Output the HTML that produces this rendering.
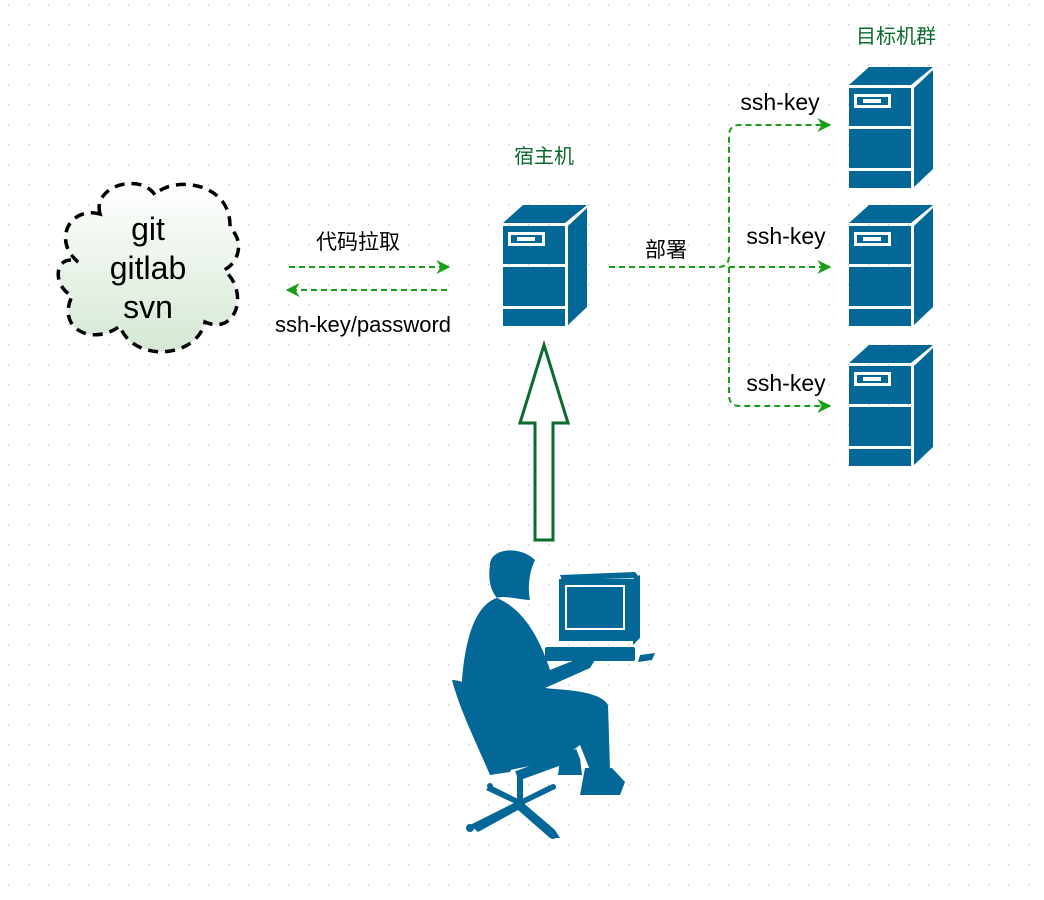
<!DOCTYPE html>
<html><head><meta charset="utf-8"><style>
body{margin:0;background:#fff;}
svg{display:block;}
text{font-family:"Liberation Sans","Noto Sans CJK SC",sans-serif;}
</style></head><body>
<svg width="1044" height="900" viewBox="0 0 1044 900" xmlns="http://www.w3.org/2000/svg">
<defs>
<pattern id="dots" x="8" y="4" width="20" height="20" patternUnits="userSpaceOnUse">
<rect x="0" y="0" width="1.5" height="1.5" fill="#d0d0d0"/>
</pattern>
<linearGradient id="cg" x1="0" y1="0" x2="0" y2="1">
<stop offset="0" stop-color="#ffffff"/><stop offset="1" stop-color="#d5e8d4"/>
</linearGradient>
<g id="srv">
<polygon points="20,0 84,0 62,18 0,18" fill="#036897"/>
<polygon points="65,21 84,3 84,102 65,120" fill="#036897"/>
<rect x="0" y="21" width="62" height="38" fill="#036897"/>
<rect x="0" y="62" width="62" height="39" fill="#036897"/>
<rect x="0" y="104" width="62" height="17" fill="#036897"/>
<rect x="5" y="27" width="37" height="14" fill="#fff"/>
<rect x="8" y="30" width="31" height="8" fill="#036897"/>
<rect x="14" y="32" width="18" height="4" fill="#fff"/>
</g>
<marker id="ah" viewBox="0 0 10 10" refX="9" refY="5" markerWidth="16" markerHeight="14" markerUnits="userSpaceOnUse" orient="auto"><path d="M0,0 L10,5 L0,10 L3,5 z" fill="#1a9e1a"/></marker>
</defs>
<rect width="1044" height="900" fill="url(#dots)"/>

<!-- cloud -->
<path d="M100,214 C92,186 140,172 155,195 C170,176 232,180 230,228 C244,240 240,262 224,270 C250,292 236,336 205,322 C196,360 132,362 120,326 C94,346 56,330 72,296 C50,284 56,252 78,262 C52,240 70,206 100,214 Z" fill="url(#cg)" stroke="#000" stroke-width="3.5" stroke-dasharray="10,7"/>
<text x="148" y="240" font-size="32" text-anchor="middle">git</text>
<text x="148" y="279" font-size="32" text-anchor="middle">gitlab</text>
<text x="148" y="318" font-size="32" text-anchor="middle">svn</text>

<!-- git arrows -->
<line x1="289" y1="267" x2="449" y2="267" stroke="#1a9e1a" stroke-width="2" stroke-dasharray="6,4" marker-end="url(#ah)"/>
<line x1="447" y1="290" x2="287" y2="290" stroke="#1a9e1a" stroke-width="2" stroke-dasharray="6,4" marker-end="url(#ah)"/>
<text x="358" y="249" font-size="21" text-anchor="middle">代码拉取</text>
<text x="363" y="332" font-size="22" text-anchor="middle">ssh-key/password</text>

<!-- host -->
<text x="544" y="163" font-size="20" fill="#0a6b2b" text-anchor="middle">宿主机</text>
<use href="#srv" x="503" y="205"/>

<!-- deploy -->
<path d="M609,267 L718,267 Q729,267 729,256 L729,136 Q729,125 740,125 L830,125" fill="none" stroke="#1a9e1a" stroke-width="2" stroke-dasharray="6,4" marker-end="url(#ah)"/>
<path d="M729,267 L830,267" fill="none" stroke="#1a9e1a" stroke-width="2" stroke-dasharray="6,4" marker-end="url(#ah)"/>
<path d="M729,267 L729,395 Q729,406 740,406 L830,406" fill="none" stroke="#1a9e1a" stroke-width="2" stroke-dasharray="6,4" marker-end="url(#ah)"/>
<text x="666" y="257" font-size="21" text-anchor="middle">部署</text>
<text x="780" y="110" font-size="23" text-anchor="middle">ssh-key</text>
<text x="786" y="244" font-size="23" text-anchor="middle">ssh-key</text>
<text x="786" y="391" font-size="23" text-anchor="middle">ssh-key</text>

<text x="896" y="43" font-size="20" fill="#0a6b2b" text-anchor="middle">目标机群</text>
<use href="#srv" x="849" y="67"/>
<use href="#srv" x="849" y="205"/>
<use href="#srv" x="849" y="345"/>

<!-- big arrow -->
<path d="M544,345 L568,423 L553,423 L553,540 L535,540 L535,423 L520,423 Z" fill="#fff" stroke="#0a6b2b" stroke-width="3" stroke-linejoin="miter"/>

<!-- person -->
<g fill="#036897">
<polygon points="560,575 635,572 640,578 562,580"/>
<rect x="559" y="579" width="74" height="62"/>
<rect x="565" y="585" width="60" height="45" fill="#fff"/>
<rect x="567" y="587" width="56" height="41"/>
<polygon points="633,579 640,575 640,638 633,645"/>
<rect x="545" y="647" width="90" height="14" rx="2"/>
<polygon points="640,655 655,653 652,660 638,662"/>
<path d="M490,565 C490,548 520,545 535,560 C528,575 528,590 530,600 C520,600 505,595 497,598 C490,590 488,578 490,565 Z"/>
<path d="M497,598 C475,605 465,640 462,680 C460,720 480,760 510,770 L560,760 L580,745 L590,770 L610,770 L608,705 C600,690 560,690 545,688 L590,668 L595,660 L575,660 L550,670 C540,640 525,610 497,598 Z"/>
<path d="M452,680 C470,680 490,700 500,720 C510,750 515,765 510,772 L490,775 C475,740 460,710 452,680 Z"/>
<rect x="515" y="760" width="65" height="10" transform="rotate(-20 547 765)"/>
<path d="M560,760 L580,758 L582,775 L558,775 Z"/>
<path d="M585,768 L612,768 L625,782 L620,795 L580,795 Z"/>
<rect x="517" y="775" width="6" height="28"/>
<path d="M470,825 L520,800 L555,830 L560,838 L550,838 L518,810 L478,832 Z"/>
<path d="M490,785 L520,800 L550,785 L553,790 L520,806 L486,790 Z"/>
<circle cx="470" cy="828" r="4"/><circle cx="553" cy="835" r="4"/><circle cx="490" cy="786" r="3"/><circle cx="553" cy="787" r="3"/>
</g>
</svg>
</body></html>
